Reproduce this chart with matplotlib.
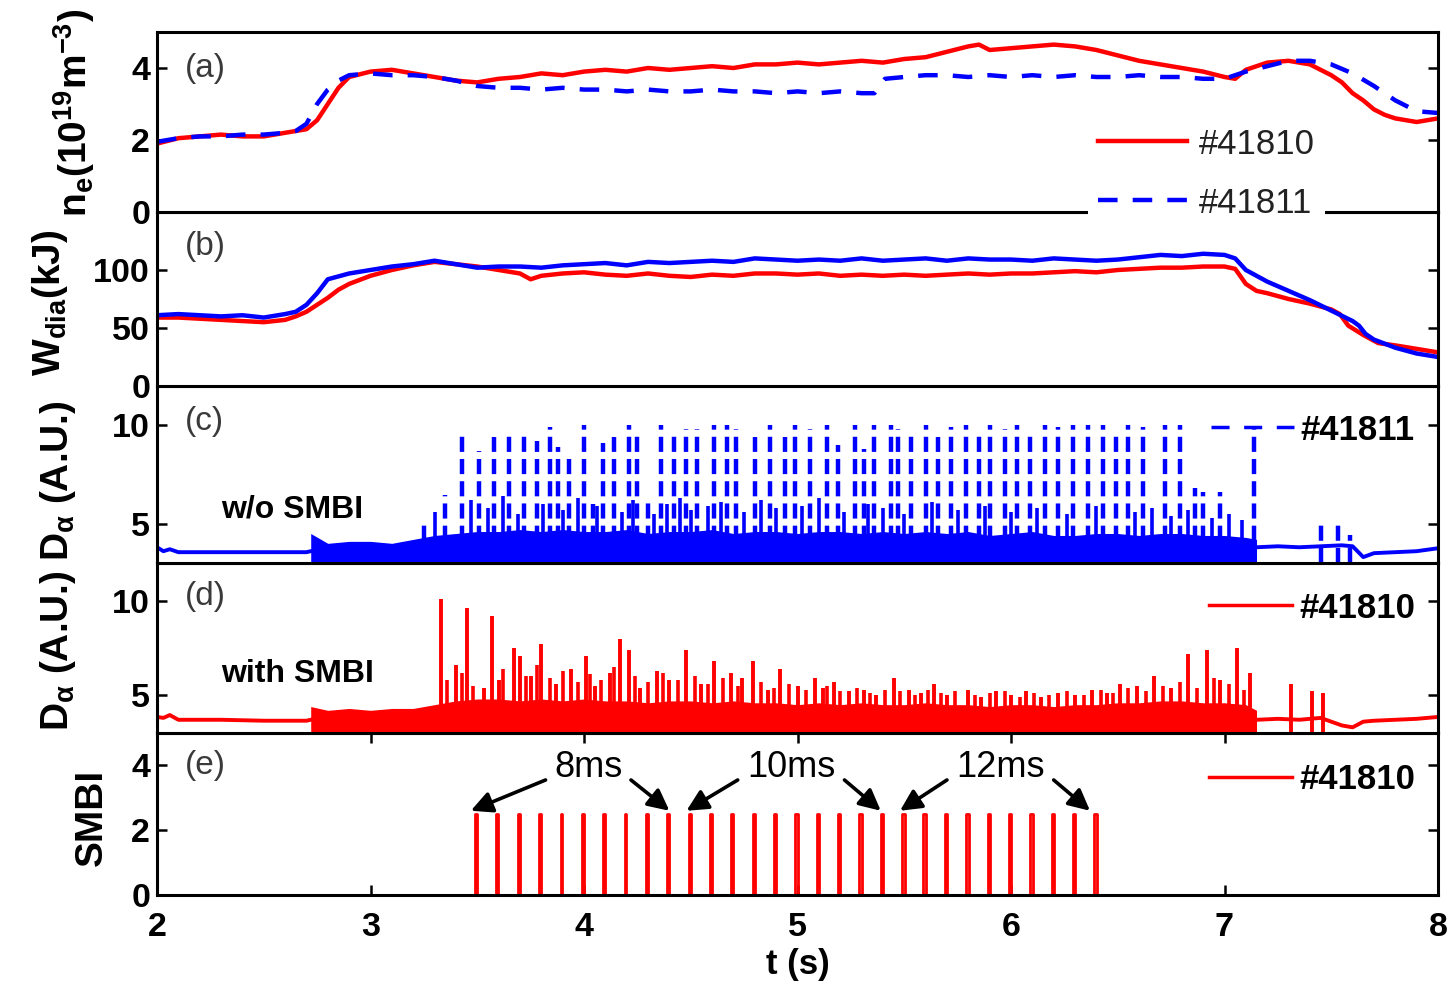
import matplotlib
matplotlib.use("Agg")
import matplotlib.pyplot as plt
from matplotlib.lines import Line2D

plt.rcParams["font.family"] = ["Liberation Sans", "DejaVu Sans"]
plt.rcParams["mathtext.fontset"] = "custom"
plt.rcParams["mathtext.rm"] = "Liberation Sans:bold"
plt.rcParams["mathtext.it"] = "Liberation Sans:bold"
plt.rcParams["mathtext.bf"] = "Liberation Sans:bold"

RED = "#ff0000"
BLUE = "#0000ff"
DASH = (0, (4.4, 3.4))

# ---- (a) line-averaged density, 10^19 m^-3
t_ne_41810 = [2.0, 2.1, 2.2, 2.3, 2.4, 2.5, 2.6, 2.65, 2.7, 2.75, 2.8, 2.85, 2.9,
              3.0, 3.1, 3.2, 3.3, 3.4, 3.5, 3.6, 3.7, 3.8, 3.9,
              4.0, 4.1, 4.2, 4.3, 4.4, 4.5, 4.6, 4.7, 4.8, 4.9,
              5.0, 5.1, 5.2, 5.3, 5.4, 5.5, 5.6, 5.7, 5.8, 5.85, 5.9,
              6.0, 6.1, 6.2, 6.3, 6.4, 6.5, 6.6, 6.7, 6.8, 6.9, 7.0, 7.05,
              7.1, 7.2, 7.3, 7.4, 7.5, 7.55, 7.6, 7.65, 7.7, 7.75, 7.8, 7.9, 8.0]
ne_41810 = [1.9, 2.05, 2.1, 2.15, 2.1, 2.1, 2.2, 2.25, 2.3, 2.55, 3.0, 3.45, 3.75,
            3.9, 3.95, 3.85, 3.75, 3.65, 3.6, 3.7, 3.75, 3.85, 3.8,
            3.9, 3.95, 3.9, 4.0, 3.95, 4.0, 4.05, 4.0, 4.1, 4.1,
            4.15, 4.1, 4.15, 4.2, 4.15, 4.25, 4.3, 4.45, 4.6, 4.65, 4.5,
            4.55, 4.6, 4.65, 4.6, 4.5, 4.35, 4.2, 4.1, 4.0, 3.9, 3.75, 3.7,
            3.95, 4.15, 4.2, 4.1, 3.8, 3.6, 3.3, 3.1, 2.85, 2.7, 2.6, 2.5, 2.6]
t_ne_41811 = [2.0, 2.1, 2.2, 2.3, 2.4, 2.5, 2.6, 2.65, 2.7, 2.75, 2.8, 2.85, 2.9,
              3.0, 3.1, 3.2, 3.3, 3.4, 3.5, 3.6, 3.7, 3.8, 3.9,
              4.0, 4.1, 4.2, 4.3, 4.4, 4.5, 4.6, 4.7, 4.8, 4.9,
              5.0, 5.1, 5.2, 5.3, 5.36, 5.41, 5.5, 5.6, 5.7, 5.8, 5.9,
              6.0, 6.1, 6.2, 6.3, 6.4, 6.5, 6.6, 6.7, 6.8, 6.9,
              7.0, 7.1, 7.2, 7.3, 7.4, 7.5, 7.6, 7.7, 7.8, 7.9, 8.0]
ne_41811 = [1.95, 2.05, 2.1, 2.1, 2.15, 2.15, 2.2, 2.25, 2.45, 3.0, 3.4, 3.65, 3.8,
            3.85, 3.8, 3.8, 3.75, 3.65, 3.5, 3.45, 3.45, 3.4, 3.45,
            3.4, 3.4, 3.35, 3.4, 3.35, 3.35, 3.4, 3.35, 3.35, 3.3,
            3.35, 3.3, 3.35, 3.3, 3.3, 3.7, 3.75, 3.8, 3.8, 3.75, 3.8,
            3.75, 3.8, 3.75, 3.8, 3.75, 3.75, 3.8, 3.75, 3.75, 3.7,
            3.7, 3.9, 4.05, 4.2, 4.2, 4.1, 3.85, 3.5, 3.1, 2.8, 2.75]

# ---- (b) diamagnetic stored energy, kJ
t_w_41810 = [2.0, 2.1, 2.2, 2.3, 2.4, 2.5, 2.6, 2.65, 2.7, 2.75, 2.8, 2.85, 2.9,
             3.0, 3.1, 3.2, 3.3, 3.4, 3.5, 3.6, 3.7, 3.75, 3.8, 3.9,
             4.0, 4.1, 4.2, 4.3, 4.4, 4.5, 4.6, 4.7, 4.8, 4.9,
             5.0, 5.1, 5.2, 5.3, 5.4, 5.5, 5.6, 5.7, 5.8, 5.9,
             6.0, 6.1, 6.2, 6.3, 6.4, 6.5, 6.6, 6.7, 6.8, 6.9, 7.0, 7.05,
             7.1, 7.15, 7.2, 7.3, 7.4, 7.5, 7.54, 7.58, 7.65, 7.72, 7.8, 7.9, 8.0]
w_41810 = [59, 59, 58, 57, 56, 55, 57, 60, 64, 70, 76, 83, 88,
           95, 100, 104, 107, 105, 103, 100, 97, 92, 95, 97,
           98, 96, 95, 97, 95, 94, 96, 95, 97, 97,
           96, 97, 95, 96, 95, 96, 95, 96, 97, 96,
           97, 97, 98, 99, 98, 100, 101, 102, 102, 103, 103, 101,
           88, 82, 80, 75, 71, 66, 62, 52, 44, 37, 35, 32, 29]
t_w_41811 = [2.0, 2.1, 2.2, 2.3, 2.4, 2.5, 2.6, 2.65, 2.7, 2.75, 2.8, 2.9,
             3.0, 3.1, 3.2, 3.3, 3.4, 3.5, 3.6, 3.7, 3.8, 3.9,
             4.0, 4.1, 4.2, 4.3, 4.4, 4.5, 4.6, 4.7, 4.8, 4.9,
             5.0, 5.1, 5.2, 5.3, 5.4, 5.5, 5.6, 5.7, 5.8, 5.9,
             6.0, 6.1, 6.2, 6.3, 6.4, 6.5, 6.6, 6.7, 6.8, 6.9, 7.0, 7.05,
             7.1, 7.2, 7.3, 7.4, 7.5, 7.6, 7.63, 7.66, 7.7, 7.8, 7.9, 8.0]
w_41811 = [61, 62, 61, 60, 61, 59, 62, 64, 70, 80, 92, 97,
           100, 103, 105, 108, 105, 102, 103, 103, 102, 104,
           105, 106, 104, 107, 106, 107, 108, 107, 110, 109,
           108, 109, 108, 110, 108, 109, 110, 108, 110, 109,
           109, 108, 110, 109, 108, 109, 111, 113, 112, 114, 113, 110,
           100, 90, 82, 74, 65, 56, 52, 45, 40, 33, 28, 25]

# ---- (c), (d) D-alpha: quiet baseline, dense ELM band envelope, ELM spikes
t_pre = [2.0, 2.03, 2.06, 2.1, 2.3, 2.5, 2.7, 2.72]
t_post = [7.15, 7.25, 7.35, 7.45, 7.55, 7.6, 7.65, 7.7, 7.8, 7.9, 8.0]
t_band = [2.72, 2.8, 2.9, 3.0, 3.1, 3.2, 3.3, 3.4, 3.5, 3.6, 3.7, 3.8, 3.9,
          4.0, 4.1, 4.2, 4.3, 4.4, 4.5, 4.6, 4.7, 4.8, 4.9,
          5.0, 5.1, 5.2, 5.3, 5.4, 5.5, 5.6, 5.7, 5.8, 5.9,
          6.0, 6.1, 6.2, 6.3, 6.4, 6.5, 6.6, 6.7, 6.8, 6.9, 7.0, 7.1, 7.15]

da_41811_pre = [3.8, 3.6, 3.7, 3.55, 3.55, 3.55, 3.55, 3.6]
da_41811_post = [3.8, 3.85, 3.8, 3.85, 3.9, 3.85, 3.3, 3.5, 3.55, 3.6, 3.75]
da_41811_band = [4.5, 4.0, 4.1, 4.1, 4.0, 4.2, 4.4, 4.5, 4.6, 4.6, 4.7, 4.6, 4.7,
                 4.6, 4.6, 4.7, 4.5, 4.6, 4.6, 4.7, 4.5, 4.6, 4.6,
                 4.5, 4.6, 4.6, 4.5, 4.6, 4.5, 4.6, 4.5, 4.6, 4.4,
                 4.5, 4.6, 4.4, 4.4, 4.5, 4.5, 4.4, 4.5, 4.5, 4.4, 4.4, 4.3, 4.2]
elm_41811_t = [3.25, 3.35, 3.43, 3.51, 3.58, 3.65, 3.72, 3.78, 3.84, 3.88,
               3.93, 4.00, 4.04, 4.09, 4.14, 4.21, 4.25, 4.30, 4.36, 4.42,
               4.48, 4.53, 4.61, 4.67, 4.71, 4.80, 4.87, 4.94, 4.99, 5.06,
               5.14, 5.19, 5.27, 5.31, 5.36, 5.44, 5.47, 5.53, 5.60, 5.66,
               5.72, 5.79, 5.85, 5.90, 5.97, 6.03, 6.09, 6.16, 6.22, 6.29,
               6.36, 6.43, 6.49, 6.55, 6.62, 6.72, 6.79, 6.86, 6.90, 6.98,
               7.14, 7.45, 7.53, 7.59]
elm_41811_h = [5.1, 6.45, 9.65, 8.7, 9.4, 9.5, 9.55, 9.2, 9.9, 8.9,
               8.4, 10.0, 6.0, 9.1, 9.4, 10.0, 9.5, 6.2, 10.0, 9.65,
               9.8, 9.8, 10.0, 10.0, 9.8, 9.4, 10.0, 9.4, 10.0, 9.8,
               10.0, 9.0, 10.0, 8.8, 10.0, 10.0, 9.8, 9.6, 10.0, 9.4,
               9.9, 10.0, 9.5, 10.0, 9.8, 10.0, 9.6, 10.0, 9.9, 10.0,
               10.0, 10.0, 9.5, 10.0, 9.9, 10.0, 10.0, 6.8, 6.6, 6.6,
               9.8, 5.2, 5.1, 4.4]
minor_41811_t = [3.30, 3.47, 3.55, 3.62, 3.69, 3.81, 3.90, 3.97, 4.06, 4.18,
                 4.23, 4.33, 4.39, 4.45, 4.50, 4.58, 4.64, 4.75, 4.83, 4.90,
                 5.02, 5.10, 5.22, 5.33, 5.40, 5.50, 5.63, 5.75, 5.88, 6.00,
                 6.12, 6.26, 6.40, 6.58, 6.66, 6.75, 6.83, 6.94, 7.02, 7.08]
minor_41811_h = [5.6, 6.2, 5.8, 6.4, 5.5, 6.0, 5.7, 6.3, 5.9, 5.6,
                 6.2, 5.5, 6.0, 6.3, 5.7, 5.9, 6.1, 5.6, 6.2, 5.8,
                 5.9, 6.3, 5.6, 6.0, 5.8, 5.5, 6.1, 5.7, 5.9, 5.6,
                 5.8, 5.5, 5.9, 5.6, 5.8, 5.4, 5.7, 5.3, 5.5, 5.2]

da_41810_pre = [3.85, 3.8, 3.95, 3.7, 3.7, 3.65, 3.65, 3.7]
da_41810_post = [3.7, 3.75, 3.7, 3.8, 3.4, 3.3, 3.6, 3.65, 3.7, 3.75, 3.85]
da_41810_band = [4.4, 4.2, 4.3, 4.2, 4.3, 4.3, 4.5, 4.7, 4.8, 4.8, 4.7, 4.8, 4.7,
                 4.8, 4.7, 4.7, 4.6, 4.7, 4.7, 4.6, 4.7, 4.6, 4.6,
                 4.5, 4.6, 4.5, 4.6, 4.5, 4.5, 4.6, 4.5, 4.5, 4.4,
                 4.5, 4.5, 4.4, 4.5, 4.5, 4.6, 4.6, 4.7, 4.7, 4.6, 4.6, 4.5, 4.2]
elm_41810_t = [3.33, 3.40, 3.45, 3.53, 3.57, 3.60, 3.67, 3.70, 3.75, 3.80,
               3.87, 3.94, 4.01, 4.05, 4.12, 4.17, 4.21, 4.26, 4.34, 4.40,
               4.48, 4.55, 4.61, 4.69, 4.74, 4.79, 4.86, 4.92, 5.00, 5.08,
               5.12, 5.17, 5.24, 5.31, 5.37, 5.45, 5.52, 5.58, 5.64, 5.70,
               5.80, 5.86, 5.93, 6.00, 6.07, 6.14, 6.22, 6.30, 6.38, 6.45,
               6.51, 6.59, 6.67, 6.75, 6.83, 6.92, 6.98, 7.06, 7.12, 7.31,
               7.41, 7.46]
elm_41810_h = [10.1, 6.6, 9.6, 5.4, 9.2, 5.8, 7.5, 7.1, 6.0, 7.7,
               5.6, 6.4, 7.1, 5.5, 6.2, 8.0, 7.4, 5.4, 6.3, 5.8,
               7.4, 5.6, 6.8, 6.2, 5.9, 6.8, 5.3, 6.4, 5.5, 5.9,
               5.4, 5.7, 5.2, 5.3, 5.0, 5.9, 5.3, 5.1, 5.6, 5.0,
               5.3, 4.9, 5.2, 5.0, 5.2, 4.9, 5.1, 5.0, 5.3, 5.1,
               5.6, 5.5, 6.0, 5.4, 7.2, 7.4, 5.8, 7.5, 6.2, 5.6,
               5.2, 5.1]
minor_41810_t = [3.36, 3.43, 3.48, 3.62, 3.73, 3.78, 3.84, 3.90, 3.97, 4.03,
                 4.08, 4.14, 4.24, 4.30, 4.37, 4.44, 4.52, 4.58, 4.65, 4.72,
                 4.83, 4.89, 4.96, 5.04, 5.14, 5.20, 5.28, 5.34, 5.41, 5.48,
                 5.55, 5.61, 5.67, 5.74, 5.83, 5.90, 5.97, 6.04, 6.11, 6.18,
                 6.26, 6.34, 6.42, 6.48, 6.55, 6.63, 6.71, 6.79, 6.87, 6.95,
                 7.02, 7.09]
minor_41810_h = [5.8, 6.2, 5.5, 6.4, 6.0, 6.6, 5.9, 6.3, 5.7, 6.1,
                 5.8, 6.5, 6.0, 5.7, 6.2, 5.8, 6.0, 5.6, 5.9, 5.5,
                 5.7, 5.4, 5.6, 5.3, 5.5, 5.2, 5.4, 5.1, 5.3, 5.2,
                 5.0, 5.3, 5.1, 5.2, 5.0, 5.1, 5.2, 4.9, 5.1, 5.0,
                 5.2, 5.0, 5.3, 5.1, 5.4, 5.2, 5.5, 5.7, 5.4, 5.9,
                 5.6, 5.3]

# ---- (e) SMBI pulses: 10 x 8 ms, 10 x 10 ms, 10 x 12 ms
smbi_t = [3.49, 3.59, 3.69, 3.79, 3.89, 3.99, 4.09, 4.19, 4.29, 4.39,
          4.49, 4.59, 4.69, 4.79, 4.89, 4.99, 5.09, 5.19, 5.29, 5.39,
          5.49, 5.59, 5.69, 5.79, 5.89, 5.99, 6.09, 6.19, 6.29, 6.39]
smbi_w = [0.008] * 10 + [0.010] * 10 + [0.012] * 10
smbi_amp = 2.5
group_labels = ["8ms", "10ms", "12ms"]
group_label_t = [4.02, 4.97, 5.95]
group_first = [3.47, 4.48, 5.48]
group_last = [4.40, 5.39, 6.37]

panel_tags = ["(a)", "(b)", "(c)", "(d)", "(e)"]


def style_axes(ax, ylim, yticks, xticks_on=False):
    ax.set_xlim(2, 8)
    ax.set_ylim(*ylim)
    ax.set_yticks(yticks)
    for sp in ax.spines.values():
        sp.set_linewidth(2.2)
    ax.tick_params(axis="y", direction="in", left=True, right=True,
                   length=7, width=1.8, pad=5, labelsize=24.5)
    for lab in ax.get_yticklabels():
        lab.set_fontweight("bold")
    if xticks_on:
        ax.set_xticks([2, 3, 4, 5, 6, 7, 8])
        ax.tick_params(axis="x", direction="in", top=True, bottom=True,
                       length=7, width=1.8, pad=12, labelsize=24.5)
        for lab in ax.get_xticklabels():
            lab.set_fontweight("bold")
    else:
        ax.tick_params(axis="x", bottom=False, top=False, labelbottom=False)


def tag_legend(ax, handle, label, ypos):
    ax.legend(handles=[handle], labels=[label], loc="center right",
              bbox_to_anchor=(0.982, ypos), frameon=False, borderpad=0,
              borderaxespad=0, prop={"size": 25, "weight": "bold"},
              handlelength=2.4, handletextpad=0.2)


W, H = 1455, 985
fig = plt.figure(figsize=(W / 100, H / 100), dpi=100)
left, width = 157 / W, 1281 / W
# panel (top, bottom) in pixels, added bottom-up so upper panels draw on top
boxes = [(32, 212), (212, 386), (386, 563), (563, 733), (733, 895)]
axes = [None] * 5
for i in [4, 3, 2, 1, 0]:
    top, bot = boxes[i]
    axes[i] = fig.add_axes([left, 1 - bot / H, width, (bot - top) / H])
ax_a, ax_b, ax_c, ax_d, ax_e = axes

# (a)
ax_a.plot(t_ne_41810, ne_41810, color=RED, lw=3.2, label="#41810")
ax_a.plot(t_ne_41811, ne_41811, color=BLUE, lw=3.2, ls=DASH, label="#41811")
style_axes(ax_a, (0, 5), [0, 2, 4])
leg = ax_a.legend(loc="lower right", bbox_to_anchor=(0.912, -0.10), fontsize=25,
                  frameon=True, framealpha=1, edgecolor="none", facecolor="white",
                  handlelength=2.55, handletextpad=0.35, labelspacing=0.75,
                  borderpad=0.3, borderaxespad=0, fancybox=False)
for txt in leg.get_texts():
    txt.set_color("#222222")

# (b)
ax_b.plot(t_w_41810, w_41810, color=RED, lw=3.2)
ax_b.plot(t_w_41811, w_41811, color=BLUE, lw=3.2)
style_axes(ax_b, (0, 150), [0, 50, 100])

# (c)
ax_c.plot(t_pre, da_41811_pre, color=BLUE, lw=2.8)
ax_c.plot(t_post, da_41811_post, color=BLUE, lw=2.8)
ax_c.fill_between(t_band, 3.0, da_41811_band, color=BLUE, lw=0)
ax_c.vlines(minor_41811_t, 3.0, minor_41811_h, colors=BLUE, lw=2.6)
ax_c.vlines(elm_41811_t, 3.0, elm_41811_h, colors=BLUE, lw=3.2,
            linestyles=[(0, (3.4, 1.6))])
style_axes(ax_c, (3, 12), [5, 10])
tag_legend(ax_c, Line2D([], [], color=BLUE, lw=2.5, ls=(0, (5.2, 4.2))), "#41811", 0.751)
ax_c.text(0.05, 0.3, "w/o SMBI", transform=ax_c.transAxes, fontsize=23,
          fontweight="bold", va="center")

# (d)
ax_d.plot(t_pre, da_41810_pre, color=RED, lw=2.8)
ax_d.plot(t_post, da_41810_post, color=RED, lw=2.8)
ax_d.fill_between(t_band, 3.0, da_41810_band, color=RED, lw=0)
ax_d.vlines(minor_41810_t, 3.0, minor_41810_h, colors=RED, lw=2.6)
ax_d.vlines(elm_41810_t, 3.0, elm_41810_h, colors=RED, lw=2.8)
style_axes(ax_d, (3, 12), [5, 10])
tag_legend(ax_d, Line2D([], [], color=RED, lw=2.5), "#41810", 0.735)
ax_d.text(0.05, 0.35, "with SMBI", transform=ax_d.transAxes, fontsize=23,
          fontweight="bold", va="center")

# (e)
px, py = [2.0], [0.0]
for t0, w in zip(smbi_t, smbi_w):
    px += [t0, t0, t0 + w, t0 + w]
    py += [0.0, smbi_amp, smbi_amp, 0.0]
px.append(8.0)
py.append(0.0)
ax_e.plot(px, py, color=RED, lw=2.0)
style_axes(ax_e, (0, 5), [0, 2, 4], xticks_on=True)
tag_legend(ax_e, Line2D([], [], color=RED, lw=2.5), "#41810", 0.71)
ax_e.set_xlabel("t (s)", fontsize=25, fontweight="bold")
ax_e.xaxis.set_label_coords(0.5, -0.33)
arrow = dict(arrowstyle="-|>", color="black", lw=2.6, mutation_scale=32,
             shrinkA=0, shrinkB=0)
for lab, tc, t1, t2 in zip(group_labels, group_label_t, group_first, group_last):
    ax_e.text(tc, 3.95, lab, fontsize=26, ha="center", va="center")
    half = 0.05 * len(lab) + 0.05
    ax_e.annotate("", xy=(t1, 2.6), xytext=(tc - half, 3.55), arrowprops=arrow)
    ax_e.annotate("", xy=(t2, 2.6), xytext=(tc + half, 3.55), arrowprops=arrow)

for ax, tag in zip(axes, panel_tags):
    ax.text(0.022, 0.8, tag, transform=ax.transAxes, fontsize=24,
            color="#3a3a3a", va="center")

# y labels placed by pixel centre, as in the original layout
ylabels = [(r"n$_\mathrm{e}$(10$^\mathrm{19}$m$^\mathrm{-3}$)", 74, 113),
           (r"W$_\mathrm{dia}$(kJ)", 50, 303),
           (r"D$_\mathrm{\alpha}$ (A.U.)", 58, 481),
           (r"D$_\mathrm{\alpha}$ (A.U.)", 58, 651),
           ("SMBI", 92, 817)]
for text, xc, yc in ylabels:
    fig.text(xc / W, 1 - yc / H, text, rotation=90, ha="center", va="center",
             fontsize=28, fontweight="bold")

fig.savefig("out.png", dpi=100, facecolor="white")
